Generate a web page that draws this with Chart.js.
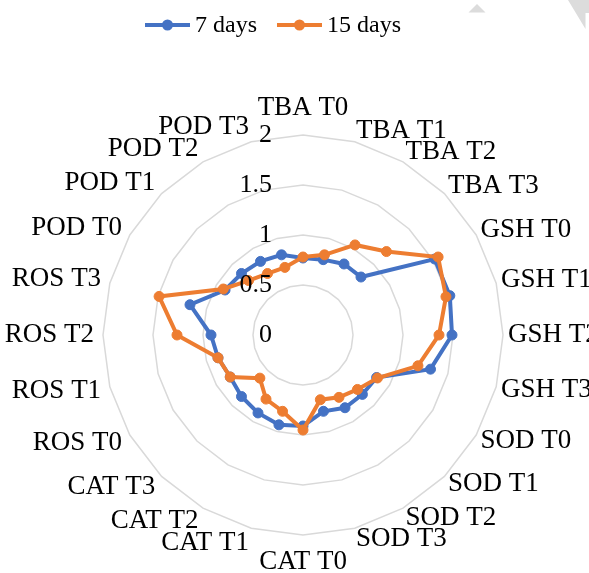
<!DOCTYPE html>
<html>
<head>
<meta charset="utf-8">
<script src="https://cdn.jsdelivr.net/npm/chart.js@4.4.1/dist/chart.umd.min.js"></script>
<style>
  html, body { margin: 0; padding: 0; background: #ffffff; }
  #wrap { width: 589px; height: 573px; position: relative; }
</style>
</head>
<body>
<div id="wrap"><canvas id="radar" width="589" height="573"></canvas></div>
<script>
// Biomarker / sampling-time categories, clockwise from the top
const categories = [
  'TBA T0', 'TBA T1', 'TBA T2', 'TBA T3',
  'GSH T0', 'GSH T1', 'GSH T2', 'GSH T3',
  'SOD T0', 'SOD T1', 'SOD T2', 'SOD T3',
  'CAT T0', 'CAT T1', 'CAT T2', 'CAT T3',
  'ROS T0', 'ROS T1', 'ROS T2', 'ROS T3',
  'POD T0', 'POD T1', 'POD T2', 'POD T3'
];

// Relative values after 7 days of exposure
const days7 = [
  0.77, 0.78, 0.82, 0.82,
  1.52, 1.52, 1.49, 1.32,
  0.85, 0.84, 0.84, 0.79,
  0.91, 0.93, 0.90, 0.87,
  0.84, 0.88, 0.92, 1.17,
  0.90, 0.87, 0.85, 0.83
];

// Relative values after 15 days of exposure
const days15 = [
  0.78, 0.83, 1.04, 1.18,
  1.56, 1.48, 1.36, 1.19,
  0.86, 0.77, 0.72, 0.67,
  0.95, 0.79, 0.74, 0.61,
  0.84, 0.88, 1.26, 1.49,
  0.92, 0.77, 0.71, 0.70
];

const seriesNames = ['7 days', '15 days'];

// Radial axis range and ring step
const axisMin = 0;
const axisMax = 2;
const axisStep = 0.5;

// Geometry and styling
const CENTER_X = 303;
const CENTER_Y = 335;
const OUTER_RADIUS = 200;
const BLUE = '#4472C4';
const ORANGE = '#ED7D31';
const SERIF = '"Liberation Serif", "Times New Roman", serif';

// Light grey corner decorations in the page background
const cornerMarks = {
  id: 'cornerMarks',
  beforeDraw(chart) {
    const ctx = chart.ctx;
    ctx.save();
    ctx.fillStyle = '#dcdcdc';
    ctx.beginPath();
    ctx.moveTo(477, 4);
    ctx.lineTo(485.5, 12.5);
    ctx.lineTo(468.5, 12.5);
    ctx.closePath();
    ctx.fill();
    ctx.beginPath();
    ctx.moveTo(568, 0);
    ctx.lineTo(589, 0);
    ctx.lineTo(589, 13);
    ctx.lineTo(585.5, 13);
    ctx.lineTo(585.5, 29);
    ctx.closePath();
    ctx.fill();
    ctx.restore();
  }
};

// Category and tick labels drawn around the radial scale
const radarText = {
  id: 'radarText',
  afterDatasetsDraw(chart) {
    const s = chart.scales.r;
    const ctx = chart.ctx;
    ctx.save();
    ctx.fillStyle = '#000000';
    ctx.textBaseline = 'middle';

    // ring values, right-aligned just left of the vertical axis
    ctx.font = '26px ' + SERIF;
    ctx.textAlign = 'right';
    s.ticks.forEach(t => {
      const d = s.getDistanceFromCenterForValue(t.value);
      ctx.fillText(String(t.value), s.xCenter - 31, s.yCenter - d);
    });

    // category names
    ctx.font = '27px ' + SERIF;
    const n = chart.data.labels.length;
    chart.data.labels.forEach((name, i) => {
      const deg = Math.round(i * 360 / n);
      const onLeft = deg > 180;
      const p = s.getPointPosition(i, s.drawingArea + (onLeft ? 9 : 5));
      let y = p.y;
      let align;
      if (deg === 0 || deg === 180) {
        align = 'center';
        y += deg === 0 ? -22 : 22;
      } else {
        align = onLeft ? 'right' : 'left';
        y -= Math.cos(deg * Math.PI / 180) * 6;
      }
      ctx.textAlign = align;
      ctx.fillText(name, p.x, y);
    });
    ctx.restore();
  }
};

// Series key: line with a marker, followed by the series name
const seriesKey = {
  id: 'seriesKey',
  afterDraw(chart) {
    const ctx = chart.ctx;
    let x = 145;
    const y = 25;
    ctx.save();
    ctx.font = '24px ' + SERIF;
    ctx.textBaseline = 'middle';
    ctx.textAlign = 'left';
    chart.data.datasets.forEach(ds => {
      ctx.strokeStyle = ds.borderColor;
      ctx.lineWidth = 4;
      ctx.beginPath();
      ctx.moveTo(x, y);
      ctx.lineTo(x + 45, y);
      ctx.stroke();
      ctx.fillStyle = ds.borderColor;
      ctx.beginPath();
      ctx.arc(x + 22.5, y, 5.5, 0, Math.PI * 2);
      ctx.fill();
      ctx.fillStyle = '#000000';
      ctx.fillText(ds.label, x + 50, y + 1);
      x += 50 + ctx.measureText(ds.label).width + 20;
    });
    ctx.restore();
  }
};

new Chart(document.getElementById('radar'), {
  type: 'radar',
  data: {
    labels: categories,
    datasets: [
      {
        label: seriesNames[0],
        data: days7,
        borderColor: BLUE,
        backgroundColor: BLUE,
        pointBackgroundColor: BLUE,
        pointBorderColor: BLUE,
        borderWidth: 4,
        pointRadius: 5,
        pointBorderWidth: 1,
        fill: false,
        tension: 0,
        order: 1
      },
      {
        label: seriesNames[1],
        data: days15,
        borderColor: ORANGE,
        backgroundColor: ORANGE,
        pointBackgroundColor: ORANGE,
        pointBorderColor: ORANGE,
        borderWidth: 4,
        pointRadius: 5,
        pointBorderWidth: 1,
        fill: false,
        tension: 0,
        order: 0
      }
    ]
  },
  options: {
    responsive: false,
    animation: false,
    devicePixelRatio: 1,
    layout: { padding: 0 },
    plugins: {
      legend: { display: false },
      tooltip: { enabled: false }
    },
    scales: {
      r: {
        min: axisMin,
        max: axisMax,
        ticks: { stepSize: axisStep, display: false },
        angleLines: { display: false },
        grid: { color: '#d9d9d9', lineWidth: 1.5 },
        pointLabels: { display: false },
        afterFit(scale) {
          scale.xCenter = CENTER_X;
          scale.yCenter = CENTER_Y;
          scale.drawingArea = OUTER_RADIUS;
        }
      }
    }
  },
  plugins: [cornerMarks, radarText, seriesKey]
});
</script>
</body>
</html>
